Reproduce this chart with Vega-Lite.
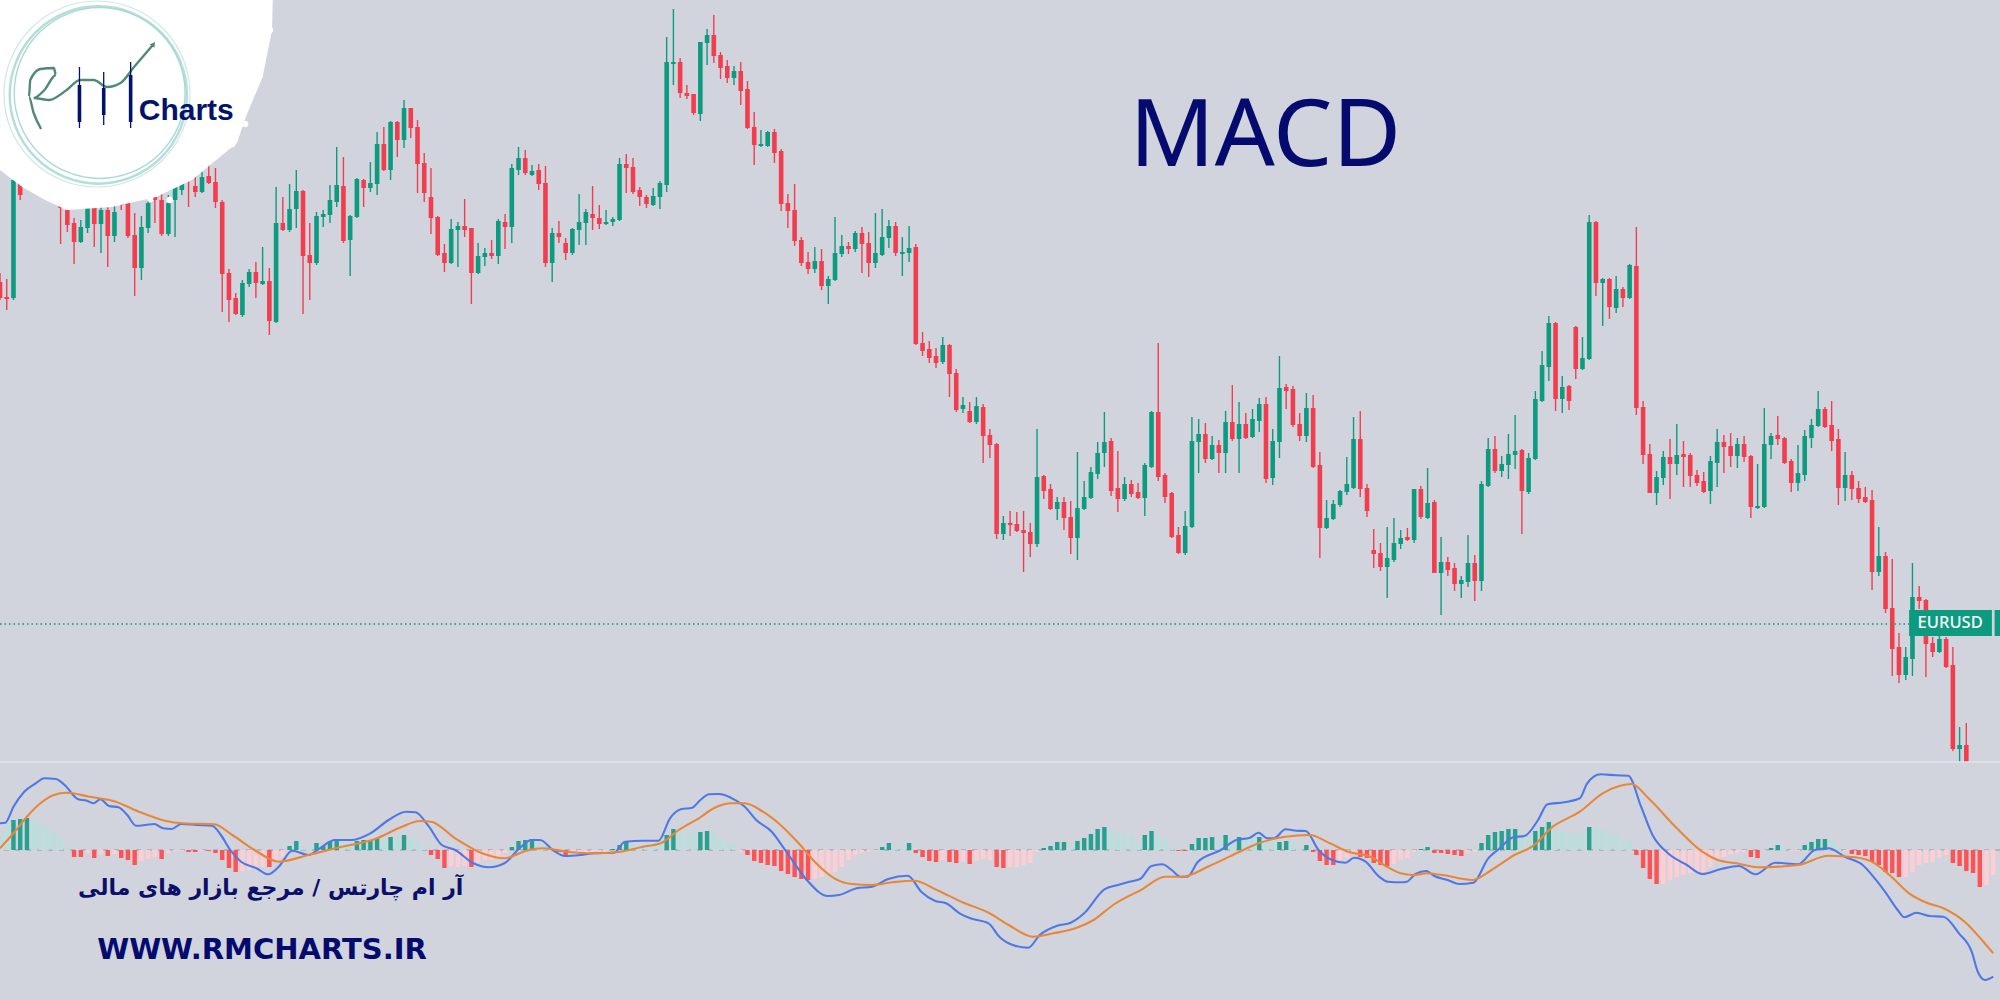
{"$schema":"https://vega.github.io/schema/vega-lite/v6.json","width":2000,"height":1000,"padding":0,"autosize":{"type":"none"},"background":"#d1d4dc","config":{"view":{"stroke":null}},
"datasets":{
"candles":[{"t":0,"o":718,"h":727,"l":700,"c":702},{"t":1,"o":703,"h":721,"l":690,"c":701},{"t":2,"o":702,"h":825,"l":700,"c":820},{"t":3,"o":818,"h":825,"l":800,"c":805},{"t":4,"o":818,"h":835,"l":815,"c":830},{"t":5,"o":830,"h":840,"l":808,"c":815},{"t":6,"o":810,"h":840,"l":804,"c":830},{"t":7,"o":830,"h":845,"l":802,"c":810},{"t":8,"o":805,"h":845,"l":798,"c":835},{"t":9,"o":830,"h":845,"l":756,"c":792},{"t":10,"o":790,"h":800,"l":768,"c":775},{"t":11,"o":777,"h":782,"l":736,"c":758},{"t":12,"o":758,"h":780,"l":757,"c":773},{"t":13,"o":772,"h":805,"l":767,"c":797},{"t":14,"o":792,"h":800,"l":753,"c":776},{"t":15,"o":776,"h":800,"l":747,"c":790},{"t":16,"o":790,"h":800,"l":733,"c":764},{"t":17,"o":764,"h":795,"l":758,"c":788},{"t":18,"o":810,"h":820,"l":790,"c":795},{"t":19,"o":797,"h":810,"l":762,"c":764},{"t":20,"o":765,"h":787,"l":704,"c":732},{"t":21,"o":732,"h":784,"l":720,"c":773},{"t":22,"o":772,"h":803,"l":767,"c":797},{"t":23,"o":815,"h":825,"l":777,"c":800},{"t":24,"o":800,"h":810,"l":764,"c":766},{"t":25,"o":766,"h":805,"l":764,"c":797},{"t":26,"o":800,"h":830,"l":763,"c":825},{"t":27,"o":810,"h":830,"l":805,"c":825},{"t":28,"o":835,"h":840,"l":793,"c":820},{"t":29,"o":814,"h":823,"l":803,"c":808},{"t":30,"o":808,"h":828,"l":807,"c":823},{"t":31,"o":824,"h":847,"l":816,"c":817},{"t":32,"o":818,"h":832,"l":792,"c":798},{"t":33,"o":798,"h":800,"l":688,"c":726},{"t":34,"o":727,"h":731,"l":678,"c":700},{"t":35,"o":702,"h":707,"l":685,"c":686},{"t":36,"o":685,"h":720,"l":683,"c":717},{"t":37,"o":716,"h":731,"l":713,"c":728},{"t":38,"o":728,"h":738,"l":702,"c":717},{"t":39,"o":716,"h":753,"l":715,"c":719},{"t":40,"o":719,"h":732,"l":665,"c":679},{"t":41,"o":678,"h":813,"l":677,"c":777},{"t":42,"o":777,"h":803,"l":769,"c":770},{"t":43,"o":770,"h":816,"l":768,"c":791},{"t":44,"o":791,"h":830,"l":772,"c":809},{"t":45,"o":809,"h":810,"l":686,"c":744},{"t":46,"o":745,"h":777,"l":700,"c":737},{"t":47,"o":737,"h":788,"l":735,"c":784},{"t":48,"o":783,"h":790,"l":773,"c":786},{"t":49,"o":785,"h":815,"l":777,"c":800},{"t":50,"o":798,"h":853,"l":793,"c":815},{"t":51,"o":814,"h":843,"l":757,"c":759},{"t":52,"o":760,"h":785,"l":724,"c":784},{"t":53,"o":783,"h":822,"l":782,"c":821},{"t":54,"o":820,"h":821,"l":793,"c":812},{"t":55,"o":812,"h":838,"l":808,"c":817},{"t":56,"o":816,"h":868,"l":805,"c":856},{"t":57,"o":856,"h":873,"l":829,"c":830},{"t":58,"o":830,"h":879,"l":820,"c":878},{"t":59,"o":878,"h":879,"l":843,"c":860},{"t":60,"o":860,"h":900,"l":852,"c":892},{"t":61,"o":892,"h":892,"l":862,"c":872},{"t":62,"o":873,"h":880,"l":807,"c":836},{"t":63,"o":837,"h":847,"l":798,"c":807},{"t":64,"o":803,"h":832,"l":766,"c":782},{"t":65,"o":783,"h":784,"l":744,"c":745},{"t":66,"o":747,"h":756,"l":728,"c":737},{"t":67,"o":737,"h":781,"l":736,"c":771},{"t":68,"o":770,"h":778,"l":733,"c":774},{"t":69,"o":774,"h":801,"l":763,"c":770},{"t":70,"o":772,"h":772,"l":696,"c":727},{"t":71,"o":727,"h":757,"l":726,"c":744},{"t":72,"o":743,"h":752,"l":734,"c":747},{"t":73,"o":747,"h":760,"l":741,"c":744},{"t":74,"o":744,"h":781,"l":736,"c":779},{"t":75,"o":778,"h":786,"l":751,"c":773},{"t":76,"o":773,"h":836,"l":757,"c":832},{"t":77,"o":830,"h":853,"l":825,"c":842},{"t":78,"o":842,"h":850,"l":825,"c":827},{"t":79,"o":825,"h":835,"l":824,"c":829},{"t":80,"o":830,"h":836,"l":810,"c":816},{"t":81,"o":817,"h":834,"l":733,"c":737},{"t":82,"o":737,"h":772,"l":718,"c":767},{"t":83,"o":767,"h":779,"l":757,"c":763},{"t":84,"o":757,"h":762,"l":740,"c":747},{"t":85,"o":747,"h":772,"l":745,"c":771},{"t":86,"o":770,"h":806,"l":755,"c":778},{"t":87,"o":777,"h":791,"l":755,"c":788},{"t":88,"o":786,"h":814,"l":770,"c":782},{"t":89,"o":782,"h":795,"l":771,"c":776},{"t":90,"o":776,"h":790,"l":775,"c":778},{"t":91,"o":778,"h":783,"l":774,"c":781},{"t":92,"o":780,"h":842,"l":779,"c":836},{"t":93,"o":836,"h":846,"l":807,"c":832},{"t":94,"o":833,"h":842,"l":806,"c":808},{"t":95,"o":810,"h":813,"l":794,"c":803},{"t":96,"o":803,"h":805,"l":792,"c":796},{"t":97,"o":795,"h":812,"l":794,"c":804},{"t":98,"o":803,"h":819,"l":791,"c":817},{"t":99,"o":815,"h":963,"l":808,"c":938},{"t":100,"o":936,"h":991,"l":915,"c":938},{"t":101,"o":938,"h":942,"l":902,"c":907},{"t":102,"o":907,"h":915,"l":901,"c":904},{"t":103,"o":906,"h":906,"l":885,"c":887},{"t":104,"o":886,"h":958,"l":879,"c":958},{"t":105,"o":957,"h":971,"l":935,"c":965},{"t":106,"o":965,"h":985,"l":937,"c":944},{"t":107,"o":945,"h":948,"l":921,"c":932},{"t":108,"o":934,"h":940,"l":917,"c":922},{"t":109,"o":922,"h":934,"l":915,"c":929},{"t":110,"o":929,"h":938,"l":895,"c":909},{"t":111,"o":911,"h":919,"l":871,"c":872},{"t":112,"o":873,"h":888,"l":835,"c":855},{"t":113,"o":854,"h":870,"l":853,"c":856},{"t":114,"o":854,"h":869,"l":853,"c":868},{"t":115,"o":868,"h":871,"l":837,"c":847},{"t":116,"o":849,"h":851,"l":789,"c":796},{"t":117,"o":797,"h":806,"l":772,"c":789},{"t":118,"o":790,"h":816,"l":754,"c":759},{"t":119,"o":760,"h":763,"l":734,"c":737},{"t":120,"o":738,"h":748,"l":726,"c":731},{"t":121,"o":731,"h":753,"l":727,"c":739},{"t":122,"o":739,"h":751,"l":710,"c":714},{"t":123,"o":714,"h":724,"l":696,"c":721},{"t":124,"o":720,"h":783,"l":719,"c":747},{"t":125,"o":746,"h":765,"l":743,"c":754},{"t":126,"o":754,"h":758,"l":746,"c":751},{"t":127,"o":751,"h":769,"l":748,"c":767},{"t":128,"o":767,"h":773,"l":727,"c":756},{"t":129,"o":757,"h":768,"l":723,"c":737},{"t":130,"o":737,"h":787,"l":732,"c":747},{"t":131,"o":745,"h":791,"l":744,"c":763},{"t":132,"o":762,"h":780,"l":752,"c":774},{"t":133,"o":774,"h":778,"l":744,"c":747},{"t":134,"o":746,"h":763,"l":724,"c":748},{"t":135,"o":747,"h":774,"l":738,"c":752},{"t":136,"o":753,"h":756,"l":655,"c":656},{"t":137,"o":657,"h":668,"l":644,"c":649},{"t":138,"o":651,"h":659,"l":637,"c":642},{"t":139,"o":644,"h":652,"l":632,"c":637},{"t":140,"o":638,"h":663,"l":636,"c":655},{"t":141,"o":655,"h":656,"l":603,"c":626},{"t":142,"o":627,"h":631,"l":588,"c":590},{"t":143,"o":591,"h":603,"l":587,"c":595},{"t":144,"o":589,"h":598,"l":577,"c":578},{"t":145,"o":578,"h":603,"l":576,"c":594},{"t":146,"o":593,"h":596,"l":537,"c":564},{"t":147,"o":565,"h":571,"l":542,"c":555},{"t":148,"o":556,"h":557,"l":461,"c":466},{"t":149,"o":466,"h":484,"l":460,"c":477},{"t":150,"o":477,"h":489,"l":464,"c":475},{"t":151,"o":476,"h":488,"l":468,"c":469},{"t":152,"o":470,"h":489,"l":428,"c":467},{"t":153,"o":468,"h":477,"l":443,"c":456},{"t":154,"o":456,"h":571,"l":453,"c":523},{"t":155,"o":524,"h":525,"l":501,"c":509},{"t":156,"o":511,"h":516,"l":490,"c":491},{"t":157,"o":491,"h":503,"l":480,"c":498},{"t":158,"o":498,"h":503,"l":470,"c":482},{"t":159,"o":483,"h":499,"l":446,"c":462},{"t":160,"o":462,"h":548,"l":440,"c":492},{"t":161,"o":491,"h":519,"l":490,"c":503},{"t":162,"o":502,"h":533,"l":501,"c":528},{"t":163,"o":526,"h":558,"l":521,"c":547},{"t":164,"o":547,"h":588,"l":533,"c":558},{"t":165,"o":559,"h":562,"l":504,"c":509},{"t":166,"o":512,"h":549,"l":488,"c":501},{"t":167,"o":501,"h":523,"l":499,"c":516},{"t":168,"o":516,"h":520,"l":503,"c":506},{"t":169,"o":508,"h":517,"l":501,"c":502},{"t":170,"o":502,"h":537,"l":484,"c":535},{"t":171,"o":533,"h":589,"l":532,"c":588},{"t":172,"o":588,"h":657,"l":519,"c":523},{"t":173,"o":525,"h":527,"l":497,"c":503},{"t":174,"o":507,"h":508,"l":462,"c":463},{"t":175,"o":465,"h":473,"l":446,"c":447},{"t":176,"o":447,"h":489,"l":445,"c":474},{"t":177,"o":473,"h":583,"l":472,"c":559},{"t":178,"o":558,"h":581,"l":527,"c":566},{"t":179,"o":566,"h":577,"l":537,"c":541},{"t":180,"o":541,"h":564,"l":540,"c":555},{"t":181,"o":555,"h":560,"l":527,"c":547},{"t":182,"o":547,"h":589,"l":527,"c":578},{"t":183,"o":578,"h":615,"l":559,"c":561},{"t":184,"o":561,"h":598,"l":527,"c":576},{"t":185,"o":576,"h":587,"l":561,"c":562},{"t":186,"o":563,"h":591,"l":562,"c":581},{"t":187,"o":579,"h":602,"l":568,"c":596},{"t":188,"o":596,"h":603,"l":517,"c":521},{"t":189,"o":522,"h":571,"l":515,"c":559},{"t":190,"o":558,"h":644,"l":542,"c":612},{"t":191,"o":613,"h":616,"l":591,"c":609},{"t":192,"o":611,"h":614,"l":573,"c":575},{"t":193,"o":576,"h":587,"l":559,"c":564},{"t":194,"o":564,"h":607,"l":558,"c":592},{"t":195,"o":592,"h":605,"l":532,"c":533},{"t":196,"o":535,"h":548,"l":442,"c":472},{"t":197,"o":472,"h":500,"l":471,"c":482},{"t":198,"o":481,"h":500,"l":480,"c":496},{"t":199,"o":495,"h":510,"l":493,"c":509},{"t":200,"o":508,"h":543,"l":505,"c":516},{"t":201,"o":512,"h":583,"l":511,"c":561},{"t":202,"o":561,"h":589,"l":503,"c":511},{"t":203,"o":512,"h":516,"l":483,"c":489},{"t":204,"o":450,"h":471,"l":432,"c":446},{"t":205,"o":447,"h":457,"l":429,"c":433},{"t":206,"o":433,"h":473,"l":402,"c":442},{"t":207,"o":440,"h":482,"l":438,"c":457},{"t":208,"o":456,"h":470,"l":451,"c":462},{"t":209,"o":463,"h":472,"l":459,"c":460},{"t":210,"o":460,"h":511,"l":457,"c":511},{"t":211,"o":511,"h":514,"l":481,"c":483},{"t":212,"o":482,"h":532,"l":481,"c":497},{"t":213,"o":498,"h":500,"l":427,"c":427},{"t":214,"o":427,"h":463,"l":385,"c":438},{"t":215,"o":438,"h":443,"l":424,"c":430},{"t":216,"o":432,"h":437,"l":409,"c":416},{"t":217,"o":416,"h":424,"l":402,"c":420},{"t":218,"o":418,"h":465,"l":413,"c":437},{"t":219,"o":437,"h":445,"l":399,"c":419},{"t":220,"o":419,"h":519,"l":409,"c":516},{"t":221,"o":514,"h":562,"l":513,"c":551},{"t":222,"o":551,"h":564,"l":527,"c":529},{"t":223,"o":529,"h":544,"l":523,"c":536},{"t":224,"o":535,"h":566,"l":521,"c":546},{"t":225,"o":545,"h":585,"l":531,"c":549},{"t":226,"o":550,"h":551,"l":466,"c":509},{"t":227,"o":508,"h":547,"l":506,"c":542},{"t":228,"o":541,"h":609,"l":540,"c":601},{"t":229,"o":599,"h":649,"l":598,"c":635},{"t":230,"o":633,"h":684,"l":619,"c":677},{"t":231,"o":677,"h":678,"l":589,"c":601},{"t":232,"o":601,"h":624,"l":587,"c":613},{"t":233,"o":614,"h":615,"l":590,"c":599},{"t":234,"o":673,"h":674,"l":621,"c":631},{"t":235,"o":631,"h":663,"l":630,"c":642},{"t":236,"o":641,"h":785,"l":640,"c":778},{"t":237,"o":778,"h":779,"l":704,"c":717},{"t":238,"o":717,"h":722,"l":674,"c":721},{"t":239,"o":721,"h":722,"l":681,"c":693},{"t":240,"o":692,"h":724,"l":687,"c":711},{"t":241,"o":711,"h":713,"l":693,"c":702},{"t":242,"o":702,"h":736,"l":701,"c":735},{"t":243,"o":734,"h":773,"l":585,"c":592},{"t":244,"o":593,"h":599,"l":536,"c":545},{"t":245,"o":546,"h":556,"l":507,"c":507},{"t":246,"o":507,"h":529,"l":495,"c":523},{"t":247,"o":522,"h":549,"l":515,"c":543},{"t":248,"o":543,"h":561,"l":501,"c":536},{"t":249,"o":536,"h":576,"l":525,"c":545},{"t":250,"o":546,"h":559,"l":513,"c":543},{"t":251,"o":545,"h":547,"l":513,"c":524},{"t":252,"o":525,"h":530,"l":514,"c":517},{"t":253,"o":519,"h":528,"l":507,"c":508},{"t":254,"o":509,"h":544,"l":496,"c":539},{"t":255,"o":537,"h":571,"l":513,"c":558},{"t":256,"o":558,"h":565,"l":527,"c":553},{"t":257,"o":554,"h":567,"l":533,"c":544},{"t":258,"o":544,"h":562,"l":532,"c":556},{"t":259,"o":556,"h":564,"l":538,"c":543},{"t":260,"o":544,"h":545,"l":482,"c":493},{"t":261,"o":492,"h":536,"l":491,"c":494},{"t":262,"o":493,"h":592,"l":492,"c":556},{"t":263,"o":555,"h":567,"l":541,"c":564},{"t":264,"o":565,"h":584,"l":555,"c":561},{"t":265,"o":562,"h":563,"l":536,"c":537},{"t":266,"o":539,"h":541,"l":508,"c":517},{"t":267,"o":517,"h":555,"l":509,"c":527},{"t":268,"o":525,"h":570,"l":519,"c":564},{"t":269,"o":562,"h":581,"l":552,"c":575},{"t":270,"o":574,"h":609,"l":573,"c":591},{"t":271,"o":591,"h":593,"l":572,"c":573},{"t":272,"o":575,"h":599,"l":549,"c":559},{"t":273,"o":561,"h":571,"l":495,"c":512},{"t":274,"o":512,"h":548,"l":499,"c":525},{"t":275,"o":525,"h":529,"l":500,"c":511},{"t":276,"o":512,"h":519,"l":497,"c":501},{"t":277,"o":503,"h":513,"l":497,"c":498},{"t":278,"o":500,"h":510,"l":410,"c":428},{"t":279,"o":428,"h":473,"l":424,"c":444},{"t":280,"o":444,"h":448,"l":387,"c":391},{"t":281,"o":392,"h":441,"l":324,"c":351},{"t":282,"o":353,"h":367,"l":317,"c":325},{"t":283,"o":325,"h":353,"l":320,"c":343},{"t":284,"o":341,"h":437,"l":324,"c":403},{"t":285,"o":403,"h":414,"l":391,"c":399},{"t":286,"o":400,"h":401,"l":323,"c":356},{"t":287,"o":357,"h":363,"l":343,"c":348},{"t":288,"o":348,"h":367,"l":347,"c":361},{"t":289,"o":361,"h":363,"l":332,"c":333},{"t":290,"o":335,"h":353,"l":249,"c":251},{"t":291,"o":251,"h":273,"l":238,"c":255},{"t":292,"o":255,"h":277,"l":238,"c":238}],
"hist":[{"t":0,"v":15,"m":0},{"t":1,"v":23,"m":0},{"t":2,"v":30,"m":1},{"t":3,"v":31,"m":1},{"t":4,"v":32,"m":1},{"t":5,"v":30,"m":0},{"t":6,"v":25,"m":0},{"t":7,"v":22,"m":0},{"t":8,"v":18,"m":0},{"t":9,"v":12,"m":0},{"t":10,"v":3,"m":0},{"t":11,"v":-7,"m":1},{"t":12,"v":-7,"m":1},{"t":13,"v":-3,"m":0},{"t":14,"v":-8,"m":1},{"t":15,"v":-4,"m":0},{"t":16,"v":-6,"m":1},{"t":17,"v":-4,"m":0},{"t":18,"v":-8,"m":1},{"t":19,"v":-10,"m":1},{"t":20,"v":-15,"m":1},{"t":21,"v":-11,"m":0},{"t":22,"v":-9,"m":0},{"t":23,"v":-7,"m":0},{"t":24,"v":-9,"m":1},{"t":25,"v":-3,"m":0},{"t":26,"v":-1,"m":0},{"t":27,"v":-1,"m":0},{"t":28,"v":-2,"m":1},{"t":29,"v":-2,"m":1},{"t":30,"v":-1,"m":0},{"t":31,"v":-1,"m":1},{"t":32,"v":-3,"m":1},{"t":33,"v":-10,"m":1},{"t":34,"v":-18,"m":1},{"t":35,"v":-22,"m":1},{"t":36,"v":-21,"m":0},{"t":37,"v":-20,"m":0},{"t":38,"v":-18,"m":0},{"t":39,"v":-17,"m":0},{"t":40,"v":-17,"m":1},{"t":41,"v":-12,"m":0},{"t":42,"v":-7,"m":0},{"t":43,"v":4,"m":1},{"t":44,"v":9,"m":1},{"t":45,"v":4,"m":0},{"t":46,"v":3,"m":0},{"t":47,"v":7,"m":1},{"t":48,"v":4,"m":1},{"t":49,"v":9,"m":1},{"t":50,"v":10,"m":1},{"t":51,"v":8,"m":0},{"t":52,"v":8,"m":0},{"t":53,"v":9,"m":1},{"t":54,"v":10,"m":1},{"t":55,"v":10,"m":1},{"t":56,"v":12,"m":1},{"t":57,"v":12,"m":0},{"t":58,"v":13,"m":1},{"t":59,"v":13,"m":0},{"t":60,"v":15,"m":1},{"t":61,"v":12,"m":0},{"t":62,"v":8,"m":0},{"t":63,"v":3,"m":0},{"t":64,"v":-5,"m":1},{"t":65,"v":-9,"m":1},{"t":66,"v":-18,"m":1},{"t":67,"v":-16,"m":0},{"t":68,"v":-17,"m":0},{"t":69,"v":-16,"m":0},{"t":70,"v":-17,"m":1},{"t":71,"v":-12,"m":0},{"t":72,"v":-10,"m":0},{"t":73,"v":-10,"m":0},{"t":74,"v":-8,"m":0},{"t":75,"v":-3,"m":0},{"t":76,"v":3,"m":1},{"t":77,"v":9,"m":1},{"t":78,"v":10,"m":1},{"t":79,"v":11,"m":1},{"t":80,"v":8,"m":0},{"t":81,"v":5,"m":0},{"t":82,"v":3,"m":0},{"t":83,"v":-2,"m":1},{"t":84,"v":-6,"m":1},{"t":85,"v":-3,"m":0},{"t":86,"v":-2,"m":0},{"t":87,"v":-2,"m":0},{"t":88,"v":-2,"m":0},{"t":89,"v":-1,"m":0},{"t":90,"v":-1,"m":0},{"t":91,"v":1,"m":1},{"t":92,"v":5,"m":1},{"t":93,"v":8,"m":1},{"t":94,"v":5,"m":0},{"t":95,"v":4,"m":0},{"t":96,"v":5,"m":0},{"t":97,"v":5,"m":0},{"t":98,"v":10,"m":0},{"t":99,"v":15,"m":1},{"t":100,"v":21,"m":1},{"t":101,"v":18,"m":0},{"t":102,"v":15,"m":0},{"t":103,"v":18,"m":0},{"t":104,"v":18,"m":1},{"t":105,"v":19,"m":1},{"t":106,"v":17,"m":0},{"t":107,"v":12,"m":0},{"t":108,"v":8,"m":0},{"t":109,"v":5,"m":0},{"t":110,"v":-2,"m":0},{"t":111,"v":-5,"m":1},{"t":112,"v":-11,"m":1},{"t":113,"v":-13,"m":1},{"t":114,"v":-15,"m":1},{"t":115,"v":-16,"m":1},{"t":116,"v":-21,"m":1},{"t":117,"v":-24,"m":1},{"t":118,"v":-27,"m":1},{"t":119,"v":-29,"m":1},{"t":120,"v":-30,"m":1},{"t":121,"v":-29,"m":0},{"t":122,"v":-27,"m":0},{"t":123,"v":-23,"m":0},{"t":124,"v":-22,"m":0},{"t":125,"v":-17,"m":0},{"t":126,"v":-10,"m":0},{"t":127,"v":-5,"m":0},{"t":128,"v":-3,"m":0},{"t":129,"v":-2,"m":0},{"t":130,"v":-1,"m":0},{"t":131,"v":3,"m":1},{"t":132,"v":7,"m":1},{"t":133,"v":3,"m":0},{"t":134,"v":3,"m":0},{"t":135,"v":7,"m":1},{"t":136,"v":-3,"m":1},{"t":137,"v":-7,"m":1},{"t":138,"v":-11,"m":1},{"t":139,"v":-12,"m":1},{"t":140,"v":-10,"m":0},{"t":141,"v":-12,"m":1},{"t":142,"v":-13,"m":1},{"t":143,"v":-12,"m":0},{"t":144,"v":-14,"m":1},{"t":145,"v":-11,"m":0},{"t":146,"v":-9,"m":0},{"t":147,"v":-10,"m":0},{"t":148,"v":-17,"m":1},{"t":149,"v":-18,"m":1},{"t":150,"v":-17,"m":0},{"t":151,"v":-17,"m":0},{"t":152,"v":-15,"m":0},{"t":153,"v":-13,"m":0},{"t":154,"v":-2,"m":0},{"t":155,"v":2,"m":1},{"t":156,"v":4,"m":1},{"t":157,"v":8,"m":1},{"t":158,"v":8,"m":1},{"t":159,"v":3,"m":0},{"t":160,"v":9,"m":1},{"t":161,"v":12,"m":1},{"t":162,"v":16,"m":1},{"t":163,"v":21,"m":1},{"t":164,"v":23,"m":1},{"t":165,"v":20,"m":0},{"t":166,"v":17,"m":0},{"t":167,"v":16,"m":0},{"t":168,"v":15,"m":0},{"t":169,"v":7,"m":0},{"t":170,"v":15,"m":1},{"t":171,"v":19,"m":1},{"t":172,"v":15,"m":0},{"t":173,"v":10,"m":0},{"t":174,"v":3,"m":0},{"t":175,"v":-1,"m":1},{"t":176,"v":-1,"m":1},{"t":177,"v":6,"m":1},{"t":178,"v":12,"m":1},{"t":179,"v":12,"m":1},{"t":180,"v":13,"m":1},{"t":181,"v":10,"m":0},{"t":182,"v":15,"m":1},{"t":183,"v":10,"m":0},{"t":184,"v":13,"m":1},{"t":185,"v":12,"m":0},{"t":186,"v":12,"m":0},{"t":187,"v":13,"m":1},{"t":188,"v":10,"m":0},{"t":189,"v":8,"m":0},{"t":190,"v":8,"m":1},{"t":191,"v":9,"m":1},{"t":192,"v":7,"m":0},{"t":193,"v":3,"m":0},{"t":194,"v":5,"m":1},{"t":195,"v":-2,"m":1},{"t":196,"v":-11,"m":1},{"t":197,"v":-15,"m":1},{"t":198,"v":-15,"m":1},{"t":199,"v":-10,"m":0},{"t":200,"v":-8,"m":0},{"t":201,"v":-5,"m":0},{"t":202,"v":-7,"m":1},{"t":203,"v":-8,"m":1},{"t":204,"v":-13,"m":1},{"t":205,"v":-15,"m":1},{"t":206,"v":-16,"m":1},{"t":207,"v":-14,"m":0},{"t":208,"v":-10,"m":0},{"t":209,"v":-8,"m":0},{"t":210,"v":-2,"m":0},{"t":211,"v":1,"m":1},{"t":212,"v":3,"m":1},{"t":213,"v":-3,"m":1},{"t":214,"v":-3,"m":1},{"t":215,"v":-4,"m":1},{"t":216,"v":-5,"m":1},{"t":217,"v":-6,"m":1},{"t":218,"v":-3,"m":0},{"t":219,"v":-2,"m":0},{"t":220,"v":7,"m":1},{"t":221,"v":15,"m":1},{"t":222,"v":18,"m":1},{"t":223,"v":19,"m":1},{"t":224,"v":21,"m":1},{"t":225,"v":21,"m":1},{"t":226,"v":13,"m":0},{"t":227,"v":13,"m":0},{"t":228,"v":19,"m":1},{"t":229,"v":23,"m":1},{"t":230,"v":28,"m":1},{"t":231,"v":20,"m":0},{"t":232,"v":18,"m":0},{"t":233,"v":17,"m":0},{"t":234,"v":16,"m":0},{"t":235,"v":16,"m":0},{"t":236,"v":23,"m":1},{"t":237,"v":23,"m":0},{"t":238,"v":21,"m":0},{"t":239,"v":17,"m":0},{"t":240,"v":16,"m":0},{"t":241,"v":10,"m":0},{"t":242,"v":10,"m":0},{"t":243,"v":-5,"m":1},{"t":244,"v":-18,"m":1},{"t":245,"v":-29,"m":1},{"t":246,"v":-34,"m":1},{"t":247,"v":-34,"m":0},{"t":248,"v":-30,"m":0},{"t":249,"v":-27,"m":0},{"t":250,"v":-25,"m":0},{"t":251,"v":-23,"m":0},{"t":252,"v":-22,"m":0},{"t":253,"v":-22,"m":0},{"t":254,"v":-17,"m":0},{"t":255,"v":-10,"m":0},{"t":256,"v":-7,"m":0},{"t":257,"v":-5,"m":0},{"t":258,"v":-3,"m":0},{"t":259,"v":-2,"m":0},{"t":260,"v":-7,"m":1},{"t":261,"v":-8,"m":1},{"t":262,"v":-1,"m":0},{"t":263,"v":2,"m":1},{"t":264,"v":5,"m":1},{"t":265,"v":2,"m":0},{"t":266,"v":-1,"m":0},{"t":267,"v":-1,"m":0},{"t":268,"v":5,"m":1},{"t":269,"v":8,"m":1},{"t":270,"v":11,"m":1},{"t":271,"v":11,"m":1},{"t":272,"v":10,"m":0},{"t":273,"v":3,"m":0},{"t":274,"v":-1,"m":0},{"t":275,"v":-4,"m":1},{"t":276,"v":-5,"m":1},{"t":277,"v":-6,"m":1},{"t":278,"v":-12,"m":1},{"t":279,"v":-15,"m":1},{"t":280,"v":-22,"m":1},{"t":281,"v":-23,"m":1},{"t":282,"v":-27,"m":1},{"t":283,"v":-27,"m":0},{"t":284,"v":-22,"m":0},{"t":285,"v":-15,"m":0},{"t":286,"v":-13,"m":0},{"t":287,"v":-12,"m":0},{"t":288,"v":-8,"m":0},{"t":289,"v":-5,"m":0},{"t":290,"v":-13,"m":1},{"t":291,"v":-16,"m":1},{"t":292,"v":-21,"m":1},{"t":293,"v":-23,"m":1},{"t":294,"v":-37,"m":1},{"t":295,"v":-35,"m":0},{"t":296,"v":-25,"m":0}],
"macd":[{"t":0,"v":26.7},{"t":0.8,"v":27.3},{"t":2,"v":43.3},{"t":3.6,"v":58.3},{"t":5.3,"v":66.7},{"t":6.6,"v":71.7},{"t":8.3,"v":71},{"t":9.6,"v":65},{"t":11.6,"v":50.7},{"t":12.9,"v":49.3},{"t":13.9,"v":46.7},{"t":14.9,"v":50.7},{"t":16.2,"v":44},{"t":17.6,"v":42.7},{"t":18.9,"v":35},{"t":20.2,"v":24.3},{"t":21.6,"v":25},{"t":22.9,"v":26},{"t":24.2,"v":21.7},{"t":25.5,"v":21},{"t":26.9,"v":26},{"t":29.2,"v":25},{"t":31.5,"v":24.3},{"t":32.8,"v":15},{"t":34.2,"v":0},{"t":35.8,"v":-11.7},{"t":38.1,"v":-18.3},{"t":39.8,"v":-24.3},{"t":41.4,"v":-16.7},{"t":43.4,"v":-0.7},{"t":45.8,"v":-5},{"t":47.7,"v":2.7},{"t":49.7,"v":10},{"t":52.1,"v":10},{"t":55,"v":16.7},{"t":57.7,"v":30},{"t":60.3,"v":38.3},{"t":61.7,"v":37.7},{"t":63.7,"v":23.3},{"t":65.6,"v":5},{"t":67.6,"v":0},{"t":70.3,"v":-13.3},{"t":72.6,"v":-17.3},{"t":74.9,"v":-13.3},{"t":77.3,"v":2.7},{"t":78.9,"v":10},{"t":80.2,"v":10},{"t":82.2,"v":-0.7},{"t":83.9,"v":-6},{"t":86.2,"v":-5},{"t":88.2,"v":-3.3},{"t":91.2,"v":-2.7},{"t":92.8,"v":8.3},{"t":95.5,"v":9.3},{"t":97.8,"v":9.3},{"t":99.5,"v":31.7},{"t":101.1,"v":40.7},{"t":102.8,"v":42.3},{"t":104,"v":50},{"t":105.3,"v":55.7},{"t":106.7,"v":56},{"t":109,"v":50.7},{"t":110.6,"v":43.3},{"t":112.3,"v":30},{"t":114.6,"v":18.3},{"t":116.6,"v":0},{"t":119.9,"v":-30.7},{"t":122.9,"v":-46},{"t":124.6,"v":-45},{"t":127.2,"v":-38.3},{"t":129.5,"v":-36.7},{"t":131.9,"v":-29},{"t":134.8,"v":-25.7},{"t":136.8,"v":-41.7},{"t":138.8,"v":-50.7},{"t":140.5,"v":-53.3},{"t":142.5,"v":-63.3},{"t":144.1,"v":-68.3},{"t":146.8,"v":-73.3},{"t":148.4,"v":-86.7},{"t":150.4,"v":-95},{"t":152.7,"v":-97.7},{"t":154.4,"v":-85},{"t":157,"v":-75.7},{"t":159,"v":-72.7},{"t":161,"v":-63.3},{"t":164,"v":-39.3},{"t":166,"v":-35},{"t":167.7,"v":-31.7},{"t":169.3,"v":-29},{"t":171,"v":-16},{"t":172.6,"v":-14.3},{"t":174,"v":-20},{"t":175.3,"v":-26.7},{"t":176.3,"v":-26.7},{"t":177.9,"v":-11.7},{"t":181.3,"v":0},{"t":183.6,"v":10},{"t":185.6,"v":12.3},{"t":186.9,"v":17.3},{"t":188.2,"v":11.7},{"t":189.2,"v":11.7},{"t":190.9,"v":20.7},{"t":192.5,"v":19.3},{"t":193.9,"v":19},{"t":195.8,"v":0},{"t":197.8,"v":-10},{"t":199.8,"v":-12.7},{"t":201.1,"v":-7.7},{"t":202.8,"v":-11.7},{"t":204.8,"v":-26.7},{"t":206.1,"v":-31.7},{"t":208,"v":-32.3},{"t":208.9,"v":-31.7},{"t":210.2,"v":-24},{"t":211.8,"v":-21},{"t":213,"v":-26},{"t":215,"v":-30},{"t":216.7,"v":-34},{"t":218.8,"v":-32.7},{"t":221,"v":-8.3},{"t":222.7,"v":1.7},{"t":224.7,"v":12.7},{"t":226.4,"v":14},{"t":228.4,"v":30},{"t":229.8,"v":45.7},{"t":232.3,"v":47.7},{"t":234.6,"v":51.7},{"t":235.7,"v":66.7},{"t":237.7,"v":75.7},{"t":240,"v":74.7},{"t":241.8,"v":74.3},{"t":243.7,"v":43.3},{"t":245.4,"v":15},{"t":247.7,"v":-3.3},{"t":250.5,"v":-15},{"t":252.8,"v":-24},{"t":255.6,"v":-19},{"t":258.2,"v":-16},{"t":260.7,"v":-24.3},{"t":263.6,"v":-12.7},{"t":267,"v":-14.3},{"t":269.5,"v":0},{"t":271.5,"v":1.7},{"t":274.1,"v":-7.3},{"t":276.6,"v":-15},{"t":278.4,"v":-28.3},{"t":280.1,"v":-43.3},{"t":281.8,"v":-60},{"t":282.8,"v":-67.3},{"t":284.6,"v":-62.7},{"t":286.6,"v":-66},{"t":288.6,"v":-66.7},{"t":290.9,"v":-83.3},{"t":292.8,"v":-101.7},{"t":293.7,"v":-121.7},{"t":294.8,"v":-130},{"t":296,"v":-126.7}],
"signal":[{"t":0,"v":1.7},{"t":2,"v":16.7},{"t":4,"v":33.3},{"t":6,"v":46.7},{"t":8,"v":55},{"t":9.9,"v":57.3},{"t":13.3,"v":53.3},{"t":17.2,"v":48.3},{"t":20.6,"v":38.3},{"t":24.5,"v":29.3},{"t":27.2,"v":26.7},{"t":31.8,"v":25.7},{"t":34.5,"v":15},{"t":37.8,"v":0},{"t":41.4,"v":-11.7},{"t":45.8,"v":-5},{"t":50.4,"v":2.7},{"t":55.7,"v":11},{"t":59.7,"v":23.3},{"t":62.3,"v":29},{"t":64,"v":28.3},{"t":67.6,"v":11.7},{"t":71.6,"v":-3.3},{"t":74.9,"v":-8.3},{"t":78.2,"v":-0.7},{"t":80.6,"v":1.7},{"t":84.2,"v":-1.7},{"t":88.2,"v":-3.3},{"t":91.5,"v":-2.3},{"t":95.5,"v":3.3},{"t":98.1,"v":6.7},{"t":100.8,"v":20},{"t":104,"v":32.7},{"t":106,"v":41.7},{"t":108.6,"v":46.7},{"t":110.6,"v":46.7},{"t":113.3,"v":38.3},{"t":115.9,"v":25},{"t":118.6,"v":6.7},{"t":121.2,"v":-13.3},{"t":123.9,"v":-28.3},{"t":126.5,"v":-34},{"t":129.5,"v":-35},{"t":132.5,"v":-32.3},{"t":135.8,"v":-30.7},{"t":139.1,"v":-40},{"t":143.1,"v":-52.7},{"t":146.8,"v":-62.7},{"t":149.8,"v":-75},{"t":153.4,"v":-86.7},{"t":156.4,"v":-83.3},{"t":159.7,"v":-78.3},{"t":162.4,"v":-70},{"t":165.3,"v":-55},{"t":169.6,"v":-39.3},{"t":173,"v":-26.7},{"t":175.6,"v":-26.7},{"t":179.6,"v":-16},{"t":183.6,"v":-3.3},{"t":186.9,"v":6.7},{"t":190.9,"v":13.3},{"t":194.5,"v":15},{"t":197.5,"v":6.7},{"t":200.2,"v":-1.7},{"t":203.5,"v":-6.7},{"t":206.1,"v":-17.3},{"t":208,"v":-23.3},{"t":209.9,"v":-25},{"t":211.9,"v":-23.3},{"t":214.2,"v":-25},{"t":218.7,"v":-30},{"t":221.5,"v":-20},{"t":224.9,"v":-5},{"t":227.5,"v":3.3},{"t":230.6,"v":23.3},{"t":234.6,"v":38.3},{"t":238,"v":56.7},{"t":240.6,"v":64.3},{"t":242.3,"v":66},{"t":244.8,"v":51.7},{"t":248.8,"v":23.3},{"t":252.8,"v":-1.7},{"t":255.1,"v":-10},{"t":257.9,"v":-13.3},{"t":261.3,"v":-17.3},{"t":267,"v":-15},{"t":271.5,"v":-5.7},{"t":275.5,"v":-7.3},{"t":278.4,"v":-13.3},{"t":280.6,"v":-25},{"t":283.5,"v":-43.3},{"t":286.3,"v":-53.3},{"t":288.6,"v":-58.3},{"t":292,"v":-73.3},{"t":294.3,"v":-90},{"t":296,"v":-103.3}],
"blob":[{"t":0,"p":830,"top":1000},{"t":3.3,"p":813,"top":1000},{"t":6.7,"p":800,"top":1000},{"t":9.9,"p":790,"top":1000},{"t":16.6,"p":793,"top":1000},{"t":23.2,"p":803,"top":1000},{"t":28.5,"p":820,"top":1000},{"t":31.2,"p":835,"top":1000},{"t":35.2,"p":857,"top":1000},{"t":36.5,"p":883,"top":1000},{"t":39,"p":923,"top":1000},{"t":40.4,"p":970,"top":1000},{"t":40.5,"p":1000,"top":1000}],
"curve":[{"n":1,"t":6.1,"p":871},{"n":2,"t":5,"p":887},{"n":3,"t":4.3,"p":903},{"n":4,"t":4.5,"p":920},{"n":5,"t":6,"p":931},{"n":6,"t":8,"p":932},{"n":7,"t":8.3,"p":925},{"n":8,"t":6.6,"p":910},{"n":9,"t":5,"p":902},{"n":10,"t":7.3,"p":900},{"n":11,"t":9.9,"p":910},{"n":12,"t":11.9,"p":920},{"n":13,"t":13.9,"p":920},{"n":14,"t":15.9,"p":913},{"n":15,"t":17.9,"p":917},{"n":16,"t":19.9,"p":933},{"n":17,"t":22.7,"p":955}],
"logoCandles":[{"t":11.8,"o":878,"h":933,"l":872,"c":915},{"t":15.4,"o":885,"h":928,"l":875,"c":912},{"t":19.4,"o":878,"h":938,"l":872,"c":925}],
"flecks":[{"t":34.5,"p":856},{"t":36.4,"p":876},{"t":40.1,"p":970},{"t":22.3,"p":801},{"t":25.2,"p":800},{"t":33,"p":850}]
},
"layer":[
{"layer":[
{"data":{"name":"candles"},"mark":{"type":"rule","strokeWidth":1.4},"encoding":{"x":{"field":"t","type":"quantitative","scale":{"domain":[0,297],"nice":false,"zero":false,"padding":0},"axis":null},"y":{"field":"l","type":"quantitative","scale":{"domain":[0,1000],"nice":false},"axis":null},"y2":{"field":"h"},"color":{"condition":{"test":"datum.c>=datum.o","value":"#0d9b80"},"value":"#f23d4f"}}},
{"data":{"name":"candles"},"mark":{"type":"bar","size":4.6,"orient":"vertical"},"encoding":{"x":{"field":"t","type":"quantitative"},"y":{"field":"o","type":"quantitative"},"y2":{"field":"c"},"color":{"condition":{"test":"datum.c>=datum.o","value":"#0d9b80"},"value":"#f23d4f"}}},
{"data":{"values":[{"p":376,"from":0,"to":283.5}]},"mark":{"type":"rule","strokeWidth":1.4,"strokeDash":[1.5,3],"color":"#0d9b80","opacity":1},"encoding":{"x":{"field":"from","type":"quantitative"},"x2":{"field":"to"},"y":{"field":"p","type":"quantitative"}}},
{"data":{"values":[{"from":283.5,"to":295.8,"a":390,"b":364},{"from":296.2,"to":297.5,"a":390,"b":364}]},"mark":{"type":"rect","color":"#0d9b80"},"encoding":{"x":{"field":"from","type":"quantitative"},"x2":{"field":"to"},"y":{"field":"a","type":"quantitative"},"y2":{"field":"b"}}},
{"data":{"values":[{"t":289.6,"p":377,"label":"EURUSD"}]},"mark":{"type":"text","font":"Noto Sans","fontSize":16.5,"fontWeight":500,"color":"#ffffff","align":"center","baseline":"middle"},"encoding":{"x":{"field":"t","type":"quantitative"},"y":{"field":"p","type":"quantitative"},"text":{"field":"label"}}},
{"data":{"values":[{"p":238}]},"mark":{"type":"rule","strokeWidth":1.5,"color":"#e3e5ea"},"encoding":{"y":{"field":"p","type":"quantitative"}}}
]},
{"layer":[
{"data":{"values":[{"v":0}]},"mark":{"type":"rule","strokeWidth":1,"strokeDash":[5,6],"color":"#9598a1"},"encoding":{"y":{"field":"v","type":"quantitative","scale":{"domain":[-150,850],"nice":false,"zero":false},"axis":null}}},
{"data":{"name":"hist"},"mark":{"type":"bar","size":4.4,"orient":"vertical"},"encoding":{"x":{"field":"t","type":"quantitative"},"y":{"field":"v","type":"quantitative"},"y2":{"datum":0},"color":{"condition":[{"test":"datum.v>=0&&datum.m==1","value":"#26a08f"},{"test":"datum.v>=0","value":"#b7e0dc"},{"test":"datum.m==1","value":"#ff5252"}],"value":"#ffcdd2"}}},
{"data":{"name":"macd"},"mark":{"type":"line","color":"#4f78e6","strokeWidth":2.1,"interpolate":"monotone"},"encoding":{"x":{"field":"t","type":"quantitative"},"y":{"field":"v","type":"quantitative"}}},
{"data":{"name":"signal"},"mark":{"type":"line","color":"#e8873a","strokeWidth":2.1,"interpolate":"monotone"},"encoding":{"x":{"field":"t","type":"quantitative"},"y":{"field":"v","type":"quantitative"}}}
]},
{"layer":[
{"data":{"name":"blob"},"mark":{"type":"area","color":"#ffffff"},"encoding":{"x":{"field":"t","type":"quantitative"},"y":{"field":"p","type":"quantitative","scale":{"domain":[0,1000],"nice":false},"axis":null},"y2":{"field":"top"}}},
{"data":{"name":"flecks"},"mark":{"type":"point","filled":true,"size":40,"color":"#ffffff","opacity":1},"encoding":{"x":{"field":"t","type":"quantitative"},"y":{"field":"p","type":"quantitative"}}},
{"data":{"values":[{"t":14.4,"p":906}]},"mark":{"type":"point","filled":false,"size":34600,"strokeWidth":1.2,"color":"#cde8e5","opacity":1},"encoding":{"x":{"field":"t","type":"quantitative"},"y":{"field":"p","type":"quantitative"}}},
{"data":{"values":[{"t":14.6,"p":905}]},"mark":{"type":"point","filled":false,"size":31400,"strokeWidth":2.5,"color":"#b4deda","opacity":1},"encoding":{"x":{"field":"t","type":"quantitative"},"y":{"field":"p","type":"quantitative"}}},
{"data":{"values":[{"t":14.8,"p":907}]},"mark":{"type":"point","filled":false,"size":29200,"strokeWidth":1.4,"color":"#a9d9d5","opacity":1},"encoding":{"x":{"field":"t","type":"quantitative"},"y":{"field":"p","type":"quantitative"}}},
{"data":{"name":"curve"},"mark":{"type":"line","color":"#4f8a75","strokeWidth":2.4,"interpolate":"monotone"},"encoding":{"x":{"field":"t","type":"quantitative"},"y":{"field":"p","type":"quantitative"},"order":{"field":"n"}}},
{"data":{"values":[{"t":22.8,"p":956}]},"mark":{"type":"point","shape":"triangle-up","filled":true,"size":35,"angle":35,"color":"#4f8a75","opacity":1},"encoding":{"x":{"field":"t","type":"quantitative"},"y":{"field":"p","type":"quantitative"}}},
{"data":{"name":"logoCandles"},"mark":{"type":"rule","strokeWidth":1.3,"color":"#03126d"},"encoding":{"x":{"field":"t","type":"quantitative"},"y":{"field":"l","type":"quantitative"},"y2":{"field":"h"}}},
{"data":{"name":"logoCandles"},"mark":{"type":"bar","size":3.6,"orient":"vertical","color":"#03126d"},"encoding":{"x":{"field":"t","type":"quantitative"},"y":{"field":"o","type":"quantitative"},"y2":{"field":"c"}}},
{"data":{"values":[{"t":20.6,"p":880,"label":"Charts"}]},"mark":{"type":"text","font":"Liberation Sans","fontSize":30,"fontWeight":"bold","color":"#03126d","align":"left","baseline":"alphabetic"},"encoding":{"x":{"field":"t","type":"quantitative"},"y":{"field":"p","type":"quantitative"},"text":{"field":"label"}}},
{"data":{"values":[{"t":187.9,"p":834,"label":"MACD"}]},"mark":{"type":"text","font":"Noto Sans","fontSize":94,"color":"#040a6e","align":"center","baseline":"alphabetic"},"encoding":{"x":{"field":"t","type":"quantitative"},"y":{"field":"p","type":"quantitative"},"text":{"field":"label"}}},
{"data":{"values":[{"t":40.2,"p":105,"label":"آر ام چارتس / مرجع بازار های مالی"}]},"mark":{"type":"text","font":"DejaVu Sans","fontSize":22,"fontWeight":"bold","color":"#0b0f6b","align":"center","baseline":"alphabetic"},"encoding":{"x":{"field":"t","type":"quantitative"},"y":{"field":"p","type":"quantitative"},"text":{"field":"label"}}},
{"data":{"values":[{"t":38.9,"p":41,"label":"WWW.RMCHARTS.IR"}]},"mark":{"type":"text","font":"DejaVu Sans","fontSize":29,"fontWeight":"bold","color":"#040a6e","align":"center","baseline":"alphabetic"},"encoding":{"x":{"field":"t","type":"quantitative"},"y":{"field":"p","type":"quantitative"},"text":{"field":"label"}}}
]}
],
"resolve":{"scale":{"y":"independent"}}}
